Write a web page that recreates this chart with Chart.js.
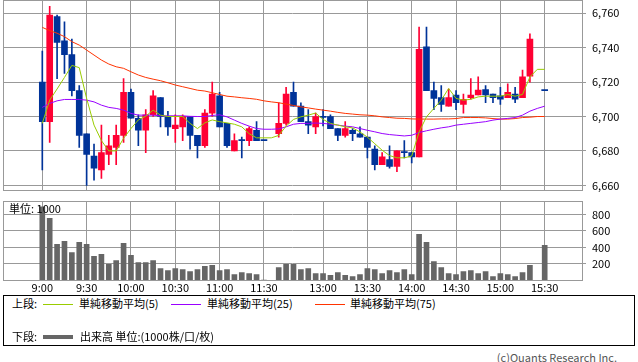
<!DOCTYPE html>
<html lang="ja">
<head>
<meta charset="utf-8">
<title>日中足チャート</title>
<script src="https://cdn.jsdelivr.net/npm/chart.js@4.4.1/dist/chart.umd.min.js"></script>
<style>
  html, body { margin: 0; padding: 0; background: #fff; }
  body { width: 638px; height: 362px; position: relative; overflow: hidden;
         font-family: 'Noto Sans CJK JP', sans-serif; font-size: 11px; color: #000; }
  canvas { position: absolute; left: 0; }
  #priceCanvas { top: 0; }
  #volCanvas { top: 195px; }
  .txt { position: absolute; white-space: nowrap; line-height: 13px; }
  #legend { position: absolute; left: 3px; top: 295px; width: 630px; height: 49px; border: 1px solid #000; }
  .swatch { position: absolute; height: 1px; width: 30px; }
</style>
</head>
<body>
<canvas id="priceCanvas" width="638" height="195"></canvas>
<canvas id="volCanvas" width="638" height="100"></canvas>
<div class="txt" style="left:9px; top:202px;">単位: 1000</div>

<div id="legend">
  <div class="txt" style="left:8px; top:1px;">上段:</div>
  <div class="swatch" style="left:39px; top:8px; background:#99cc00;"></div>
  <div class="txt" style="left:75px; top:1px;">単純移動平均(5)</div>
  <div class="swatch" style="left:167px; top:8px; background:#9900ff;"></div>
  <div class="txt" style="left:203px; top:1px;">単純移動平均(25)</div>
  <div class="swatch" style="left:311px; top:8px; background:#ff3300;"></div>
  <div class="txt" style="left:346px; top:1px;">単純移動平均(75)</div>

  <div class="txt" style="left:8px; top:34px;">下段:</div>
  <div class="swatch" style="left:39px; top:39px; height:4px; background:#666;"></div>
  <div class="txt" style="left:76px; top:34px;">出来高 単位:(1000株/口/枚)</div>
</div>
<div class="txt" style="right:21px; top:351px; color:#555;">(c)Quants Research Inc.</div>

<script>
// 5-minute slots from 9:00; slot 31 (lunch) and 67 (closing auction) are empty
const timeTickIdx = [0, 6, 12, 18, 24, 30, 38, 44, 50, 56, 62, 68];
const timeLabels = ['9:00', '9:30', '10:00', '10:30', '11:00', '11:30', '13:00', '13:30', '14:00', '14:30', '15:00', '15:30'];

const opens = [6720, 6697, 6758, 6744, 6736, 6715, 6690, 6677, 6669, 6678,
    6682, 6689, 6714, 6699, 6692, 6701, 6711, 6700, 6693, 6694,
    6700, 6689, 6683, 6702, 6712, 6696, 6680, 6686.5, 6686, 6692,
    6686, null, 6690, 6696, 6714, 6706, 6697, 6694, 6700, 6700,
    6693, 6689, 6692, 6690, 6688, 6681, 6672, 6675, 6671, 6679.5,
    6679, 6676.5, 6740.5, 6715, 6711, 6706, 6712.5, 6707, 6711, 6712.6,
    6715.7, 6713, 6712, 6711, 6713, 6711, 6723.5, null, 6715];
const highs = [6738, 6764, 6759, 6755, 6745, 6718, 6690, 6684, 6695, 6689,
    6695, 6722, 6716, 6701, 6704, 6715, 6711, 6703, 6701, 6701,
    6700, 6689, 6704, 6720, 6714, 6696, 6690, 6688, 6694, 6697,
    6686, null, 6708, 6717, 6720, 6708, 6704, 6702, 6704, 6701,
    6693, 6697, 6693, 6694, 6688, 6683, 6679, 6683, 6680, 6686,
    6679, 6752, 6752, 6720, 6718, 6716, 6715, 6713, 6722, 6723,
    6718, 6713, 6717, 6719, 6717, 6727, 6748, null, 6715];
const lows = [6669, 6685, 6722, 6725, 6712, 6682, 6660, 6663, 6664, 6672,
    6672, 6685, 6699, 6683, 6679, 6700, 6694, 6689, 6685, 6686,
    6681, 6676, 6682, 6700, 6694, 6682, 6680, 6676, 6683, 6686,
    6686, null, 6688, 6695, 6706, 6697, 6690, 6690, 6694.5, 6693,
    6686, 6688, 6686, 6688, 6676, 6669, 6672, 6670, 6668, 6676,
    6673, 6676.5, 6715, 6704, 6703, 6706, 6704, 6702, 6710, 6712.6,
    6708, 6708, 6707, 6711, 6708, 6711, 6720, null, 6715];
const closes = [6697, 6759, 6743, 6736, 6715, 6689, 6678, 6670, 6679, 6683,
    6689, 6714, 6699, 6692, 6701, 6712, 6700, 6694, 6695, 6700,
    6689, 6683, 6702, 6713, 6694, 6683, 6686, 6686, 6693, 6686,
    6686, null, 6696, 6713, 6706, 6697, 6695, 6700, 6699.5, 6693,
    6689, 6693, 6690, 6688, 6682, 6672, 6676.5, 6671, 6680, 6679,
    6676.5, 6739, 6715, 6710.5, 6707, 6711, 6708, 6710, 6712.5, 6715.3,
    6712.6, 6711, 6710, 6714, 6710, 6723, 6745, null, 6715];

const volumes = [890, 751, 436, 473, 339, 460, 436, 291, 315, 194,
    242, 448, 303, 218, 218, 242, 145, 121, 145, 133,
    109, 133, 170, 182, 121, 133, 73, 97, 85, 73,
    5, null, 157, 194, 194, 133, 145, 85, 85, 61,
    97, 61, 48, 73, 145, 133, 85, 121, 97, 133,
    73, 557, 460, 230, 157, 85, 73, 109, 121, 85,
    109, 48, 85, 73, 48, 97, 182, null, 424];

const ma5 = [6696, 6709.5, 6716, 6722.7, 6729.7, 6728.4, 6710.5, 6695, 6686, 6680,
    6680, 6687.3, 6693, 6698, 6700.2, 6703.7, 6700.8, 6700, 6700, 6700,
    6696, 6693, 6696.3, 6698, 6697, 6696.3, 6695.5, 6694, 6690, 6687.6,
    6687.6, 6687.6, 6689, 6694.4, 6698.3, 6699.8, 6700.8, 6702, 6698.3, 6696,
    6695, 6694, 6693.4, 6691, 6688, 6684.2, 6680.4, 6677.3, 6676, 6676,
    6677, 6691, 6699.8, 6704.7, 6709.5, 6716.3, 6710.5, 6709.5, 6710, 6711.4,
    6711.8, 6711.8, 6711.8, 6712.8, 6711.8, 6712.8, 6723, 6727.4, 6727.4];
const ma25 = [6705.3, 6707.6, 6709.1, 6709.9, 6709.9, 6709.9, 6709.5, 6708.5, 6706.6, 6705.3,
    6704.7, 6703.7, 6701.8, 6700.8, 6700.8, 6700.8, 6700.4, 6700.4, 6700.4, 6700.4,
    6700.1, 6700, 6700, 6700.6, 6701, 6699.8, 6697.9, 6696, 6694.4, 6693,
    6692.6, 6692.6, 6692.8, 6694, 6695.5, 6696, 6696, 6696.2, 6696, 6695.5,
    6695, 6694.4, 6694, 6693, 6692, 6691.1, 6690.1, 6689.5, 6689.1, 6688.7,
    6689.1, 6690.7, 6691.7, 6692.6, 6693.4, 6694, 6695, 6695.5, 6696, 6696.5,
    6697, 6697.9, 6698.5, 6698.9, 6699.4, 6700.8, 6703.1, 6704.7, 6706];
const ma75 = [6751.8, 6749.9, 6748.4, 6746.4, 6743.5, 6741.5, 6738.6, 6735.7, 6732.8, 6730.5,
    6728.9, 6728, 6726, 6724.1, 6722.7, 6721.7, 6720.8, 6719.6, 6718.3, 6717.3,
    6716.3, 6715.3, 6714.8, 6713.8, 6712.8, 6711.8, 6711.4, 6710.9, 6710.5, 6710,
    6709.1, 6708.5, 6708, 6707.2, 6706.4, 6705.6, 6705, 6704.3, 6703.7, 6703.1,
    6702.4, 6701.8, 6701.4, 6701, 6700.8, 6700.4, 6699.8, 6699.4, 6699, 6698.9,
    6698.6, 6698.5, 6698.5, 6698.5, 6698.6, 6698.6, 6698.8, 6699.4, 6699.4, 6699.4,
    6699.2, 6698.8, 6698.5, 6698.5, 6698.8, 6699.4, 6699.6, 6700, 6700];

const priceTicks = [6660, 6680, 6700, 6720, 6740, 6760];
const volumeTicks = [200, 400, 600, 800];

const RED = '#ff0033';
const BLUE = '#003399';
const GRID = '#999999';
const FONT = { family: "'Noto Sans CJK JP', sans-serif", size: 11 };
const X_MIN = -5.32, X_MAX = 73.05;

const slots = opens.map((o, i) => i).filter(i => opens[i] !== null);
const candleColors = slots.map(i => closes[i] > opens[i] ? RED : BLUE);
const asPoints = arr => arr.map((v, i) => ({ x: i, y: v })).filter(p => p.y !== null);

// fixed axis sizes so the plot areas line up with the picture
const fixWidth = w => scale => { scale.width = w; scale.paddingTop = 0; scale.paddingBottom = 0; };
const fixHeight = h => scale => { scale.height = h; scale.paddingLeft = 0; scale.paddingRight = 0; };

const framePlugin = {
    id: 'frame',
    afterDraw(chart) {
        const { ctx, chartArea: a } = chart;
        const l = Math.floor(a.left), t = Math.floor(a.top);
        ctx.save();
        ctx.strokeStyle = GRID;
        ctx.lineWidth = 1;
        ctx.strokeRect(l + 0.5, t + 0.5, Math.floor(a.right) - l, Math.floor(a.bottom) - t);
        ctx.restore();
    }
};

const timeAxis = (showLabels, height) => ({
    type: 'linear', min: X_MIN, max: X_MAX, offset: false,
    grid: { color: GRID, drawTicks: false, offset: false },
    border: { display: false },
    afterBuildTicks: scale => { scale.ticks = timeTickIdx.map(v => ({ value: v })); },
    afterFit: fixHeight(height),
    ticks: {
        display: showLabels, autoSkip: false, maxRotation: 0, padding: 1,
        color: '#000', font: FONT,
        callback: (v, i) => timeLabels[i]
    }
});

const lineSet = (data, color) => ({
    type: 'line', data: asPoints(data), borderColor: color, borderWidth: 1,
    pointRadius: 0, tension: 0, order: 0
});

// upper panel: candles + moving averages
new Chart(document.getElementById('priceCanvas'), {
    type: 'bar',
    data: {
        datasets: [
            lineSet(ma5, '#99cc00'),
            lineSet(ma25, '#9900ff'),
            lineSet(ma75, '#ff3300'),
            {
                data: slots.map(i => ({ x: i, y: [opens[i], closes[i]] })),
                backgroundColor: candleColors, barThickness: 6, minBarLength: 1,
                grouped: false, order: 1
            },
            {
                data: slots.map(i => ({ x: i, y: [lows[i], highs[i]] })),
                backgroundColor: candleColors, barThickness: 1,
                grouped: false, order: 2
            }
        ]
    },
    options: {
        responsive: false, animation: false, events: [],
        layout: { padding: { left: 3, top: 0, right: 0, bottom: 0 } },
        plugins: { legend: { display: false }, tooltip: { enabled: false } },
        scales: {
            x: timeAxis(false, 4.5),
            y: {
                position: 'right', min: 6657, max: 6767.7,
                grid: { color: GRID, tickLength: 4 },
                border: { display: false },
                afterBuildTicks: scale => { scale.ticks = priceTicks.map(v => ({ value: v })); },
                afterFit: fixWidth(56),
                ticks: { padding: 6, color: '#000', font: FONT, callback: v => v.toLocaleString('en-US') }
            }
        }
    },
    plugins: [framePlugin]
});

// lower panel: volume
new Chart(document.getElementById('volCanvas'), {
    type: 'bar',
    data: {
        datasets: [{
            data: asPoints(volumes),
            backgroundColor: '#666666', barThickness: 5, grouped: false
        }]
    },
    options: {
        responsive: false, animation: false, events: [],
        layout: { padding: { left: 3, top: 6, right: 0, bottom: 0 } },
        plugins: { legend: { display: false }, tooltip: { enabled: false } },
        scales: {
            x: timeAxis(true, 14.5),
            y: {
                position: 'right', min: 0, max: 961,
                grid: { color: GRID, tickLength: 4 },
                border: { display: false },
                afterBuildTicks: scale => { scale.ticks = volumeTicks.map(v => ({ value: v })); },
                afterFit: fixWidth(56),
                ticks: { padding: 6, color: '#000', font: FONT }
            }
        }
    },
    plugins: [framePlugin]
});
</script>
</body>
</html>
